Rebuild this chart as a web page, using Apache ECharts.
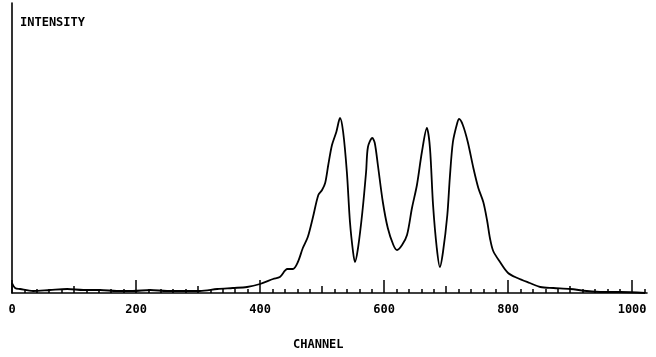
<!DOCTYPE html>
<html>
<head>
<meta charset="utf-8">
<script src="https://cdn.jsdelivr.net/npm/echarts@6/dist/echarts.min.js"></script>
<style>
  html, body { margin: 0; padding: 0; background: #fff; }
  #graph { width: 656px; height: 357px; }
</style>
</head>
<body>
<div id="graph"></div>
<script>
// channel positions and intensity (arbitrary units)
var channels = [0, 5, 13, 34, 61, 89, 115, 142, 169, 195, 223, 250, 276, 303, 331, 356, 379, 400, 421,
    432, 444, 453, 461, 469, 477, 485, 494, 500, 505, 510, 516, 523, 529, 534, 540, 545, 550, 553,
    558, 565, 571, 574, 581, 585, 590, 598, 606, 615, 621, 629, 637, 645, 653, 661, 669, 674, 679,
    685, 690, 695, 702, 706, 711, 718, 721, 727, 735, 744, 752, 760, 766, 771, 776, 787, 800, 815,
    835, 852, 873, 900, 927, 953, 981, 1021]
var intensity = [10, 5, 4, 2, 3, 4, 3, 3, 2, 2, 3, 2, 2, 2, 4, 5, 6, 9, 14,
    16, 24, 24, 31, 45, 56, 75, 98, 103, 110, 128, 148, 161, 175, 161, 121, 71, 41, 31,
    45, 81, 121, 146, 155, 150, 128, 91, 65, 48, 43, 48, 58, 85, 108, 141, 165, 145, 88,
    45, 26, 41, 78, 115, 151, 170, 174, 168, 151, 125, 105, 91, 73, 54, 42, 31, 20, 15,
    10, 6, 5, 4, 2, 1, 1, 0]

var majorTicks = [0, 200, 400, 600, 800, 1000]
var midTicks = [100, 300, 500, 700, 900]
var minorTicks = []
for (var t = 20; t < 1024; t += 20) {
    if (t % 100 != 0) minorTicks.push(t)
}

var font = '"DejaVu Sans Mono", monospace'
var chart = echarts.init(document.getElementById('graph'))

var points = []
for (var i in channels) {
    points.push([channels[i], intensity[i]])
}

function tickAxis(values, len, withLabel) {
    return {
        type: 'value',
        min: 0,
        max: 1024,
        position: 'bottom',
        axisLine: { show: withLabel, lineStyle: { color: '#000', width: 1.6 } },
        splitLine: { show: false },
        axisTick: {
            show: true,
            inside: true,
            length: len,
            customValues: values,
            lineStyle: { color: '#000', width: 1.5 }
        },
        axisLabel: {
            show: withLabel,
            customValues: values,
            formatter: function (v) { return String(v) },
            color: '#000',
            fontFamily: font,
            fontWeight: 'bold',
            fontSize: 12,
            margin: 11
        }
    }
}

option = {
    animation: false,
    backgroundColor: '#fff',
    grid: { left: 12, right: 9, top: 3, bottom: 64 },
    xAxis: [
        tickAxis(majorTicks, 13, true),
        tickAxis(midTicks, 7, false),
        tickAxis(minorTicks, 4, false)
    ],
    yAxis: {
        type: 'value',
        min: 0,
        max: 290,
        axisLine: { show: true, lineStyle: { color: '#000', width: 1.6 } },
        axisTick: { show: false },
        axisLabel: { show: false },
        splitLine: { show: false }
    },
    graphic: [
        { type: 'text', left: 20, top: 17, style: { text: 'INTENSITY', font: 'bold 12px ' + font, fill: '#000' } },
        { type: 'text', left: 293, top: 339, style: { text: 'CHANNEL', font: 'bold 12px ' + font, fill: '#000' } }
    ],
    series: [{
        type: 'line',
        xAxisIndex: 0,
        data: points,
        smooth: 0.3,
        showSymbol: false,
        lineStyle: { color: '#000', width: 1.8 }
    }]
}
chart.setOption(option)
</script>
</body>
</html>
